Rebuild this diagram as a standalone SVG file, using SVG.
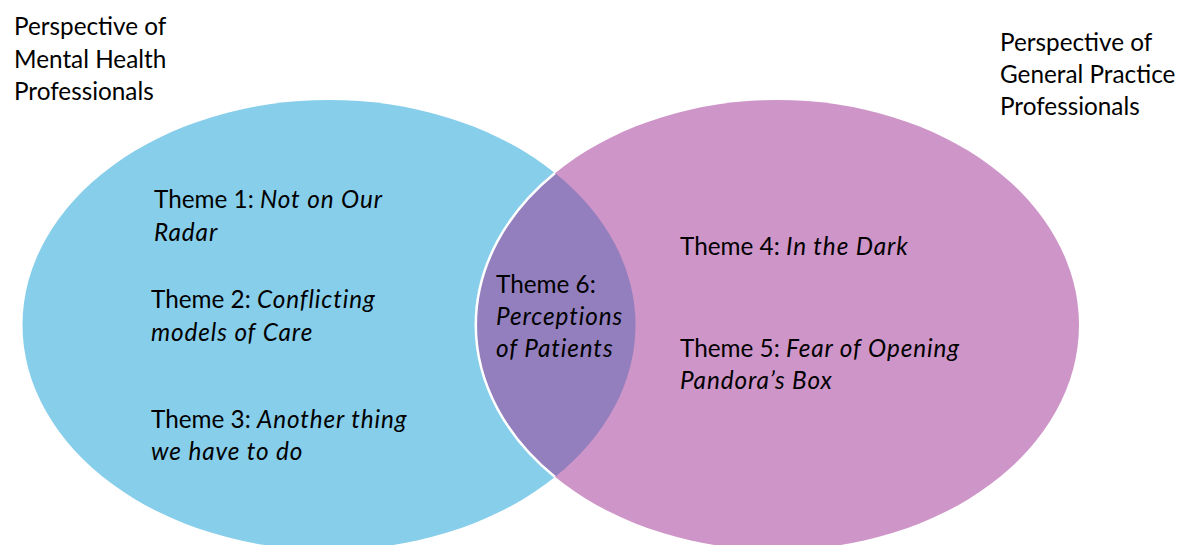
<svg xmlns="http://www.w3.org/2000/svg" width="1194" height="545" viewBox="0 0 1194 545">
  <style>
    text { font-family: Lato, "Open Sans", "Liberation Sans", sans-serif; font-size: 24.3px; fill: #000; }
    .it { font-style: italic; letter-spacing: 0.9px; }
    .mh { fill: #87ceeb; }
    .gp { fill: #ce95c8; }
    .both { fill: #937fbd; }
  </style>
  <rect width="1194" height="545" fill="#ffffff"/>

  <!-- Mental health professionals circle -->
  <g id="mental-health">
    <ellipse class="mh" cx="329" cy="325" rx="306.5" ry="225"/>
  </g>

  <!-- General practice professionals circle -->
  <g id="general-practice">
    <ellipse class="gp" cx="777.5" cy="325" rx="301.5" ry="225"/>
  </g>

  <!-- Shared region of the two circles -->
  <g id="overlap">
    <path class="both" d="M555,173 A301.5,225 0 0 0 555,477 A306.5,225 0 0 0 555,173 Z"/>
    <path d="M555,173 A301.5,225 0 0 0 555,477" fill="none" stroke="#ffffff" stroke-width="2.5"/>
  </g>

  <!-- Circle titles -->
  <g id="title-mh">
    <text x="14" y="35">Perspective of</text>
    <text x="14" y="68">Mental Health</text>
    <text x="14" y="100">Professionals</text>
  </g>
  <g id="title-gp">
    <text x="1000" y="51">Perspective of</text>
    <text x="1000" y="83">General Practice</text>
    <text x="1000" y="115">Professionals</text>
  </g>

  <!-- Themes -->
  <g id="theme-1">
    <text x="154" y="208">Theme 1: <tspan class="it">Not on Our</tspan></text>
    <text x="154" y="241" class="it">Radar</text>
  </g>
  <g id="theme-2">
    <text x="151" y="308">Theme 2: <tspan class="it">Conflicting</tspan></text>
    <text x="151" y="341" class="it">models of Care</text>
  </g>
  <g id="theme-3">
    <text x="151" y="428">Theme 3: <tspan class="it">Another thing</tspan></text>
    <text x="151" y="460" class="it">we have to do</text>
  </g>
  <g id="theme-4">
    <text x="680" y="255">Theme 4: <tspan class="it">In the Dark</tspan></text>
  </g>
  <g id="theme-5">
    <text x="680" y="357">Theme 5: <tspan class="it">Fear of Opening</tspan></text>
    <text x="680" y="389" class="it">Pandora’s Box</text>
  </g>
  <g id="theme-6">
    <text x="496" y="293">Theme 6:</text>
    <text x="496" y="325" class="it">Perceptions</text>
    <text x="496" y="357" class="it">of Patients</text>
  </g>
</svg>
